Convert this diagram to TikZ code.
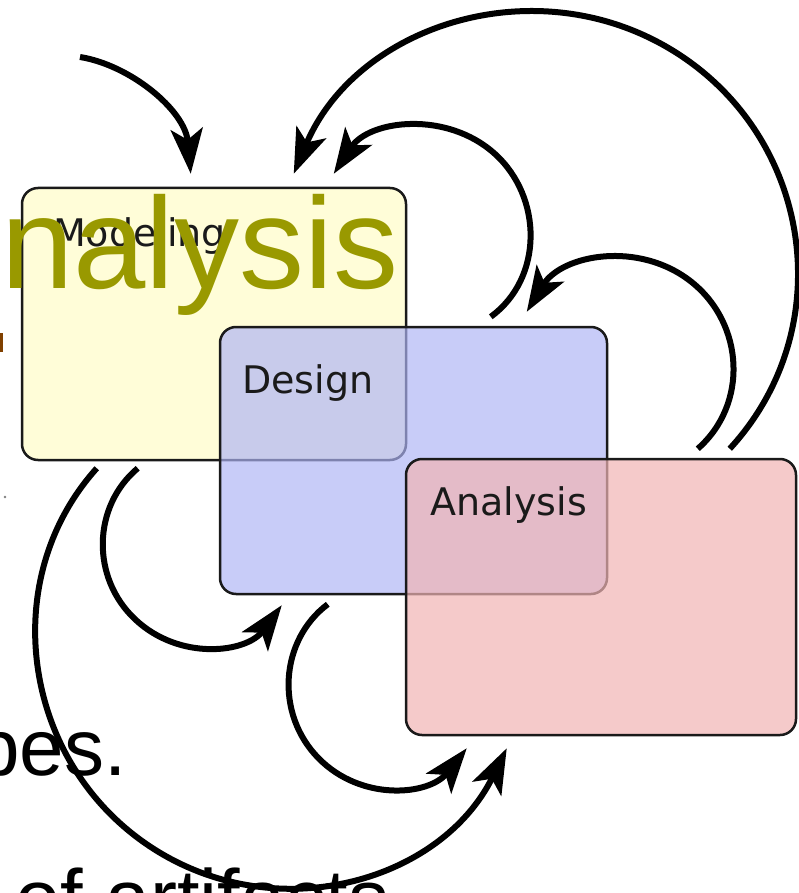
\documentclass[tikz,border=0pt]{standalone}
\usepackage{fontspec}
\setmainfont{Liberation Sans}
\newfontfamily\boxfont{DejaVu Sans}
\usepackage{tikz}
\usetikzlibrary{arrows.meta,calc}
\usepackage{xcolor}
\definecolor{cyModel}{HTML}{FFFDD8}
\definecolor{cyDesign}{HTML}{AEB4F5}
\definecolor{cyAnalysis}{HTML}{F1B4B4}
\definecolor{cyOlive}{HTML}{999900}
\definecolor{cyBrown}{HTML}{804000}
\definecolor{cyInk}{HTML}{1A1A1A}
\tikzset{
  phase/.style={draw=cyInk, line width=2.5pt, rounded corners=16pt, inner sep=0pt},
  phaselabel/.style={anchor=base west, inner sep=0pt, text=cyInk, font=\boxfont\fontsize{38}{40}\selectfont},
  iterarr/.style={-{Stealth[length=45pt,width=32pt,inset=11pt]}, line width=6pt, draw=black},
  slidetext/.style={anchor=base west, inner sep=0pt, font=\fontsize{80}{86}\selectfont}
}
\begin{document}
\begin{tikzpicture}[x=1pt,y=-1pt]
  \path[use as bounding box, fill=white] (0,0) rectangle (799,893);
  % bits of the slide behind the figure
  \fill[cyBrown] (0,333) rectangle (3,352);
  \fill[gray] (5,497) circle (1.3);
  \node[slidetext] (types) at (-25,775) {pes.};
  \node[slidetext, font=\fontsize{81}{85}\selectfont] (artifacts) at (15,926) {of artifacts};
  % the three phases
  \node[phase, fill=cyModel, minimum width=384pt, minimum height=272pt] (modeling) at (214,324) {};
  \node[phaselabel] (modelingLbl) at (53,247) {Modeling};
  \node[phase, fill=cyDesign, fill opacity=0.68, minimum width=387pt, minimum height=267pt] (design) at (413.5,460.5) {};
  \node[phaselabel] (designLbl) at (242,393) {Design};
  \node[phase, fill=cyAnalysis, fill opacity=0.7, minimum width=390pt, minimum height=276pt] (analysis) at (601,597) {};
  \node[phaselabel] (analysisLbl) at (430,515) {Analysis};
  \node[slidetext, anchor=base east, text=cyOlive, font=\fontsize{130}{130}\selectfont] (title) at (399,288) {nalysis};
  % iteration arrows
  \coordinate (entry) at (80,57);
  \draw[iterarr] (entry) .. controls (130,65) and (185,110) .. ($(modeling.north west)+(170,-13)$);
  \draw[iterarr] ($(analysis.north west)+(325,-9)$) .. controls (840,329) and (813,139) .. (675.6,52.3)
    .. controls (538,-34.4) and (356.7,24.5) .. ($(modeling.north west)+(273,-13)$);
  \draw[iterarr] ($(design.north west)+(272,-9)$) .. controls (543.4,278.4) and (543,197.3) .. (494.8,153.8)
    .. controls (446.6,110.3) and (369.3,119.9) .. ($(modeling.north west)+(313,-13)$);
  \draw[iterarr] ($(analysis.north west)+(293,-9)$) .. controls (748.4,404.3) and (744.3,324.2) .. (691.7,282.1)
    .. controls (639.1,240) and (561.8,254.7) .. ($(design.north west)+(308,-14)$);
  \draw[iterarr] ($(modeling.south west)+(117,7)$) .. controls (92.4,506.3) and (90.7,577.6) .. (135.2,619.4)
    .. controls (179.7,661.2) and (246.6,653) .. ($(design.south west)+(63,10)$);
  \draw[iterarr] ($(modeling.south west)+(76,7)$) .. controls (-3.4,579.6) and (22.1,759.6) .. (147.5,844.8)
    .. controls (272.9,930) and (440.5,882.8) .. ($(analysis.south west)+(102,12)$);
  \draw[iterarr] ($(design.south west)+(109,9)$) .. controls (279.7,640.5) and (275,713.6) .. (318.2,757.9)
    .. controls (361.4,802.2) and (429.3,795.3) .. ($(analysis.south west)+(62,12)$);
\end{tikzpicture}
\end{document}
